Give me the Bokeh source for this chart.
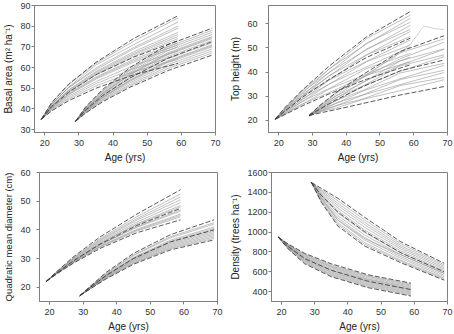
from bokeh.plotting import figure
from bokeh.layouts import column, row
from bokeh.models import Range1d, FixedTicker
from bokeh.embed import file_html
from bokeh.resources import INLINE

# ---------------- data ----------------
AGES_A = [19, 22, 27, 35, 46, 59]
AGES_B = [29, 32, 37, 45, 56, 69]
X_TICKS = [20, 30, 40, 50, 60, 70]

# Basal area (m2 ha-1)
BA_A_LINES = [
    [35, 42.8, 51.7, 62.0, 72.7, 84.0],
    [35, 42.2, 50.5, 61.3, 71.0, 82.0],
    [35, 42.1, 50.2, 59.8, 69.7, 80.0],
    [35, 42.3, 50.4, 59.0, 69.0, 79.0],
    [35, 41.6, 49.2, 58.1, 67.6, 77.0],
    [35, 41.4, 48.9, 57.6, 66.8, 76.0],
    [35, 41.2, 48.5, 57.0, 66.2, 75.0],
    [35, 41.3, 48.2, 56.6, 65.4, 74.0],
    [35, 40.7, 47.5, 55.4, 64.0, 72.0],
    [35, 40.6, 47.1, 55.0, 63.3, 71.0],
    [35, 40.4, 46.8, 54.4, 62.6, 70.0],
    [35, 40.0, 46.1, 53.2, 61.0, 68.0],
    [35, 39.7, 45.4, 52.2, 59.5, 66.0],
    [35, 39.4, 44.7, 51.1, 58.0, 64.0],
]
BA_A_DASH = [
    [35, 43.0, 52.0, 62.5, 74.0, 85.0],
    [35, 41.0, 48.0, 56.5, 65.0, 73.0],
    [35, 39.0, 44.0, 50.0, 56.5, 62.0],
]
BA_B_LINES = [
    [34, 40.8, 49.0, 59.2, 70.0, 78.0],
    [34, 40.6, 48.6, 58.6, 69.1, 77.0],
    [34, 40.3, 48.1, 57.8, 68.1, 76.0],
    [34, 40.1, 47.6, 57.1, 67.1, 75.0],
    [34, 39.9, 47.4, 56.7, 66.6, 74.5],
    [34, 39.9, 47.2, 56.4, 66.2, 74.0],
    [34, 39.6, 46.7, 55.6, 65.3, 73.0],
    [34, 39.4, 46.3, 54.9, 64.3, 72.0],
    [34, 39.1, 45.8, 54.1, 63.3, 71.0],
    [34, 39.0, 45.6, 53.8, 62.9, 70.5],
    [34, 38.9, 45.4, 53.4, 62.4, 70.0],
    [34, 38.7, 44.9, 52.7, 61.4, 69.0],
    [34, 38.5, 44.4, 51.9, 60.4, 68.0],
    [34, 38.2, 44.0, 51.2, 59.5, 67.0],
]
BA_B_DASH = [
    [34, 41.0, 49.5, 60.0, 71.0, 79.0],
    [34, 39.5, 46.5, 55.0, 64.5, 72.5],
    [34, 38.0, 43.5, 50.5, 58.5, 66.0],
]

# Top height (m)
TH_A_LINES = [
    [20.8, 25.0, 32.4, 41.2, 53.8, 63.5],
    [20.3, 25.4, 31.2, 41.3, 51.6, 62.2],
    [20.6, 24.6, 31.8, 39.8, 51.9, 60.6],
    [20.4, 25.0, 30.2, 39.9, 49.2, 59.3],
    [20.7, 24.3, 30.8, 38.3, 49.5, 57.6],
    [20.3, 24.6, 29.6, 38.5, 47.1, 56.8],
    [20.6, 23.8, 30.1, 36.8, 47.0, 54.7],
    [20.4, 24.2, 28.5, 36.7, 44.4, 53.3],
    [20.7, 23.4, 28.9, 35.0, 44.2, 51.2],
    [20.3, 23.8, 27.7, 35.1, 42.1, 50.3],
    [20.6, 23.0, 27.9, 33.2, 41.4, 47.7],
    [20.4, 23.1, 26.6, 33.0, 39.1, 46.2],
    [20.5, 22.6, 26.8, 31.5, 38.6, 44.3],
]
TH_A_DASH = [
    [20.5, 25.5, 32.5, 42.5, 54.5, 65.0],
    [20.5, 24.0, 29.5, 37.0, 46.0, 54.0],
    [20.5, 22.5, 26.0, 31.0, 37.0, 43.0],
]
TH_B_LINES = [
    [22.2, 25.6, 31.5, 38.0, 47.9, 53.7],
    [21.8, 25.9, 30.1, 37.7, 45.5, 52.3],
    [22.3, 25.0, 30.2, 35.6, 44.6, 49.6],
    [21.9, 25.4, 29.1, 35.9, 42.8, 49.4],
    [22.2, 24.6, 29.4, 34.3, 42.5, 47.1],
    [21.8, 25.0, 28.1, 34.2, 40.3, 46.4],
    [22.1, 24.1, 28.3, 32.4, 39.6, 43.6],
    [21.9, 24.5, 27.0, 32.2, 37.2, 42.8],
    [22.2, 23.7, 27.2, 30.6, 36.9, 40.7],
    [21.8, 24.0, 26.0, 30.5, 34.8, 39.8],
    [22.1, 23.4, 26.1, 28.9, 34.4, 37.7],
    [21.9, 23.6, 25.1, 28.7, 32.3, 36.8],
]
TH_B_DASH = [
    [22, 26.0, 31.5, 39.0, 48.5, 55.0],
    [22, 24.5, 28.5, 34.0, 40.5, 45.0],
    [22, 23.0, 24.5, 27.0, 30.5, 34.0],
]
TH_OUTLIER_AGES = [29, 32, 37, 45, 56, 59, 63, 66, 69]
TH_OUTLIER = [22, 25.5, 31.0, 38.0, 48.0, 51.5, 59.0, 58.0, 57.5]

# Quadratic mean diameter (cm)
QMD_A_LINES = [
    [22, 25.2, 30.2, 36.9, 44.6, 52.5],
    [22, 25.1, 30.0, 36.5, 43.9, 51.5],
    [22, 25.0, 29.8, 36.2, 43.4, 50.5],
    [22, 25.0, 29.6, 35.8, 42.7, 49.5],
    [22, 24.9, 29.4, 35.4, 42.1, 48.5],
    [22, 24.8, 29.2, 35.2, 41.8, 48.0],
    [22, 24.8, 29.0, 34.8, 41.1, 47.0],
    [22, 24.7, 28.9, 34.7, 40.9, 46.5],
    [22, 24.7, 28.7, 34.3, 40.2, 45.5],
    [22, 24.6, 28.6, 34.1, 39.9, 45.0],
    [22, 24.6, 28.5, 33.9, 39.6, 44.5],
]
QMD_A_DASH = [
    [22, 25.3, 30.5, 37.5, 45.5, 54.0],
    [22, 24.8, 29.1, 35.0, 41.5, 47.5],
    [22, 24.5, 28.3, 33.5, 39.0, 43.5],
]
QMD_B_LINES = [
    [17, 20.1, 25.0, 31.3, 37.6, 42.5],
    [17, 20.0, 24.8, 31.0, 37.2, 42.0],
    [17, 19.9, 24.5, 30.4, 36.4, 41.0],
    [17, 19.8, 24.3, 30.2, 36.0, 40.5],
    [17, 19.8, 24.2, 29.9, 35.7, 40.0],
    [17, 19.7, 24.0, 29.6, 35.3, 39.5],
    [17, 19.6, 23.8, 29.4, 34.9, 39.0],
    [17, 19.6, 23.7, 29.1, 34.5, 38.5],
    [17, 19.5, 23.5, 28.8, 34.1, 38.0],
    [17, 19.4, 23.3, 28.5, 33.7, 37.5],
    [17, 19.4, 23.2, 28.3, 33.4, 37.0],
]
QMD_B_DASH = [
    [17, 20.2, 25.3, 31.8, 38.3, 43.5],
    [17, 19.8, 24.2, 30.0, 35.8, 40.0],
    [17, 19.3, 23.0, 28.0, 33.0, 36.5],
]

# Density (trees ha-1)
DEN_A_LINES = [
    [950, 876, 777, 670, 560, 475],
    [950, 872, 771, 658, 552, 465],
    [950, 868, 761, 650, 540, 455],
    [950, 865, 754, 642, 528, 445],
    [950, 861, 745, 630, 521, 435],
    [950, 857, 739, 618, 512, 425],
    [950, 853, 728, 610, 500, 415],
    [950, 849, 722, 598, 491, 405],
    [950, 845, 713, 590, 480, 395],
    [950, 842, 706, 578, 471, 385],
    [950, 838, 696, 570, 460, 375],
    [950, 834, 690, 558, 451, 365],
]
DEN_A_DASH = [
    [950, 880, 785, 680, 570, 485],
    [950, 855, 732, 615, 505, 420],
    [950, 830, 680, 550, 440, 355],
]
DEN_B_LINES = [
    [1500, 1427, 1315, 1124, 881, 670],
    [1500, 1415, 1290, 1098, 862, 655],
    [1500, 1404, 1267, 1075, 845, 640],
    [1500, 1391, 1242, 1049, 827, 625],
    [1500, 1378, 1217, 1022, 808, 610],
    [1500, 1366, 1192, 996, 789, 595],
    [1500, 1353, 1166, 970, 770, 580],
    [1500, 1341, 1141, 944, 751, 565],
    [1500, 1329, 1119, 921, 734, 550],
    [1500, 1317, 1094, 895, 715, 535],
    [1500, 1308, 1077, 877, 703, 525],
    [1500, 1345, 1120, 935, 770, 585],
]
DEN_B_DASH = [
    [1500, 1440, 1340, 1150, 900, 685],
    [1500, 1370, 1200, 1005, 790, 600],
    [1500, 1300, 1060, 860, 690, 515],
]

# ---------------- styling ----------------
FONT = "Liberation Sans"
GRAY = "#969696"
DARK = "#303030"
FRAME = "#808080"


def panel(ylabel, yrange, yticks, a_lines, a_dash, b_lines, b_dash,
          borders, label_standoff, ylabel_size="10px", extra=None):
    left, right, top, bottom = borders
    p = figure(width=227, height=167, output_backend="svg", toolbar_location=None,
               x_range=Range1d(17, 70), y_range=Range1d(*yrange),
               min_border_left=left, min_border_right=right,
               min_border_top=top, min_border_bottom=bottom)
    p.background_fill_color = "white"
    p.border_fill_color = "white"
    p.outline_line_color = FRAME
    p.outline_line_width = 1
    p.xgrid.visible = False
    p.ygrid.visible = False

    p.multi_line(xs=[AGES_A] * len(a_lines), ys=a_lines,
                 line_color=GRAY, line_width=0.6)
    p.multi_line(xs=[AGES_B] * len(b_lines), ys=b_lines,
                 line_color=GRAY, line_width=0.6)
    if extra is not None:
        p.line(extra[0], extra[1], line_color="#b4b4b4", line_width=0.6)
    p.multi_line(xs=[AGES_A] * len(a_dash), ys=a_dash,
                 line_color=DARK, line_width=0.8, line_dash="5 2")
    p.multi_line(xs=[AGES_B] * len(b_dash), ys=b_dash,
                 line_color=DARK, line_width=0.8, line_dash="5 2")

    xa = p.xaxis[0]
    xa.ticker = FixedTicker(ticks=X_TICKS)
    xa.axis_label = "Age (yrs)"
    ya = p.yaxis[0]
    ya.ticker = FixedTicker(ticks=yticks)
    ya.axis_label = ylabel
    for ax in (xa, ya):
        ax.axis_line_color = FRAME
        ax.major_tick_line_color = FRAME
        ax.major_tick_out = 3
        ax.major_tick_in = 0
        ax.minor_tick_line_color = None
        ax.major_label_text_font = FONT
        ax.major_label_text_font_size = "9px"
        ax.major_label_text_color = "#333333"
        ax.axis_label_text_font = FONT
        ax.axis_label_text_font_size = "10px"
        ax.axis_label_text_font_style = "normal"
        ax.axis_label_text_color = "#222222"
    ya.axis_label_text_font_size = ylabel_size
    xa.major_label_standoff = 4
    xa.axis_label_standoff = 3
    ya.major_label_standoff = label_standoff
    ya.axis_label_standoff = 3
    return p


p1 = panel("Basal area (m\u00b2 ha\u207b\u00b9)", (28.6, 90),
           [30, 40, 50, 60, 70, 80, 90],
           BA_A_LINES, BA_A_DASH, BA_B_LINES, BA_B_DASH,
           (32, 12, 5, 35), 1)
p2 = panel("Top height (m)", (15, 67.5), [20, 30, 40, 50, 60],
           TH_A_LINES, TH_A_DASH, TH_B_LINES, TH_B_DASH,
           (36, 7, 5, 35), 8, extra=(TH_OUTLIER_AGES, TH_OUTLIER))
p3 = panel("Quadratic mean diameter (cm)", (15, 60), [20, 30, 40, 50, 60],
           QMD_A_LINES, QMD_A_DASH, QMD_B_LINES, QMD_B_DASH,
           (33, 10, 5, 33), 6, ylabel_size="9.5px")
p4 = panel("Density (trees ha\u207b\u00b9)", (300, 1600),
           [400, 600, 800, 1000, 1200, 1400, 1600],
           DEN_A_LINES, DEN_A_DASH, DEN_B_LINES, DEN_B_DASH,
           (37, 7, 5, 32), 1)

layout = column(row(p1, p2), row(p3, p4))
open("out.html", "w").write(file_html(layout, INLINE))
